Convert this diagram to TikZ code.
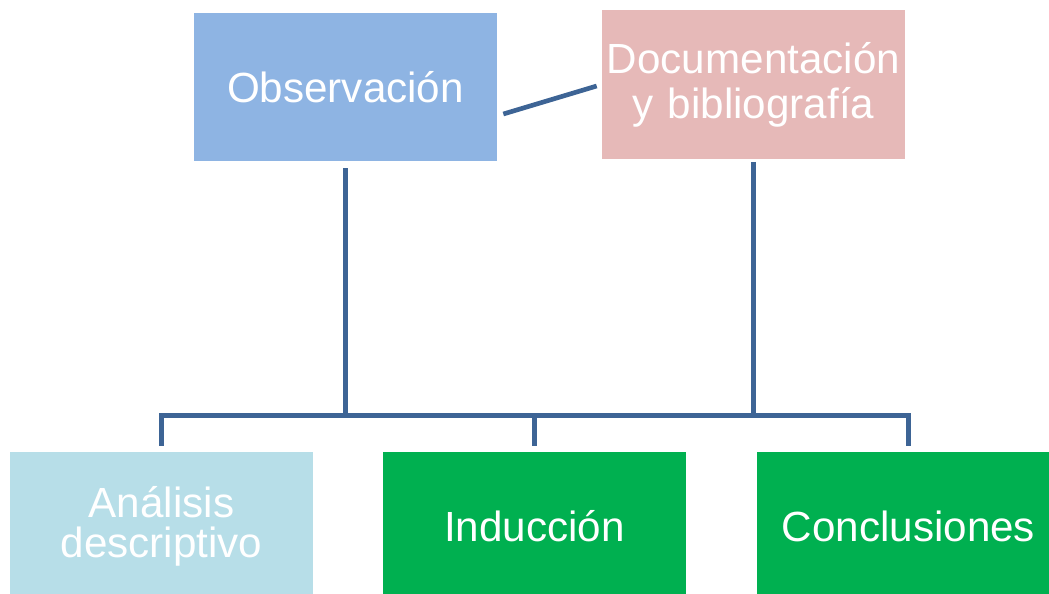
\documentclass[tikz,border=0pt]{standalone}
\usepackage{fontspec}
\setmainfont{Liberation Sans}
\definecolor{obsblue}{HTML}{8EB4E3}
\definecolor{docpink}{HTML}{E6B9B8}
\definecolor{anablue}{HTML}{B7DEE8}
\definecolor{leafgreen}{HTML}{00B050}
\definecolor{linkblue}{HTML}{3D6495}
\def\boxw{7.575cm}
\def\boxh{3.7cm}
\begin{document}
\begin{tikzpicture}[x=0.025cm,y=-0.025cm]
    \tikzstyle{block}=[rectangle,minimum width=\boxw,minimum height=\boxh,text width=7.4cm,
        inner sep=0pt,align=center,text=white,font=\fontsize{30}{28.5}\selectfont]
    \tikzstyle{link}=[draw=linkblue,line width=3.3pt]

    \clip (0,0) rectangle (1049,593);

    % Top row
    \node[block,fill=obsblue] (obs) at (345.5,87) {Observación};
    \node[block,fill=docpink] (doc) at (753.5,84.5) {Documentación\\[3.5pt]y bibliografía};

    % Bottom row
    \node[block,fill=anablue] (ana) at (161.5,526) {Análisis\\descriptivo};
    \node[block,fill=leafgreen] (ind) at (534.5,526) {Inducción};
    \node[block,fill=leafgreen] (con) at (908.5,526) {Conclusiones};

    % Bus line
    \coordinate (bus) at (0,415.5);

    \path[link] (obs.east) ++(6,27) coordinate (d-a);
    \path[link] (doc.west) ++(-5,1.5) coordinate (d-b);
    \draw[link] (d-a) -- (d-b);

    \draw[link,shorten <=0.175cm] (obs.south) -- (obs.south |- bus);
    \draw[link,shorten <=0.075cm] (doc.south) -- (doc.south |- bus);

    \draw[link,shorten <=0.15cm,shorten >=0.15cm]
        (ana.north) -- (ana.north |- bus) -- (con.north |- bus) -- (con.north);
    \draw[link,shorten >=0.15cm] (ind.north |- bus) -- (ind.north);
\end{tikzpicture}
\end{document}
